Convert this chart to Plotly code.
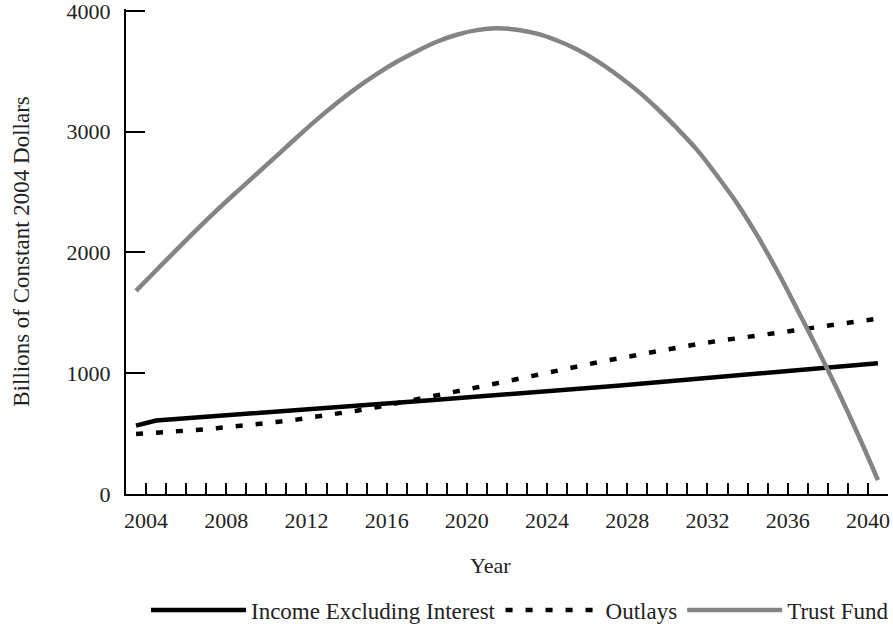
import plotly.graph_objects as go

years = [str(y) for y in range(2003, 2041)]

income = [566, 609, 621, 634, 646, 659, 671, 683, 696, 708, 721, 733, 743, 756,
          768, 780, 792, 804, 817, 830, 843, 857, 870, 884, 897, 911, 925, 939,
          953, 967, 981, 995, 1010, 1024, 1039, 1053, 1068, 1082]

outlays = [497, 505, 515, 530, 545, 560, 578, 596, 616, 638, 662, 690, 719, 750,
           782, 814, 848, 883, 917, 952, 990, 1027, 1059, 1090, 1121, 1152, 1184,
           1215, 1242, 1267, 1288, 1309, 1333, 1358, 1382, 1406, 1430, 1453]

trust = [1682, 1851, 2019, 2185, 2345, 2498, 2648, 2798, 2950, 3098, 3236, 3363,
         3477, 3579, 3667, 3745, 3803, 3841, 3856, 3845, 3812, 3755, 3680, 3585,
         3470, 3340, 3190, 3025, 2845, 2630, 2400, 2135, 1840, 1520, 1195, 855,
         495, 115]

y_ticks = [0, 1000, 2000, 3000, 4000]

FONT = "Liberation Serif"
TEXT = "#222222"

fig = go.Figure()
common = dict(x=years, xperiod="M12", xperiodalignment="middle", mode="lines")
fig.add_trace(go.Scatter(y=income, name="Income Excluding Interest",
                         line=dict(color="black", width=4.5), **common))
fig.add_trace(go.Scatter(y=outlays, name="Outlays",
                         line=dict(color="black", width=4.5, dash="7px,13px"), **common))
fig.add_trace(go.Scatter(y=trust, name="Trust Fund",
                         line=dict(color="#848484", width=4.5, shape="spline", smoothing=1.0),
                         **common))

fig.update_layout(
    width=893, height=627,
    margin=dict(l=126, r=5, t=9, b=133, autoexpand=False),
    paper_bgcolor="white", plot_bgcolor="white",
    font=dict(family=FONT, size=22, color=TEXT),
    showlegend=True,
    legend=dict(orientation="h", xref="container", yref="container",
                x=520 / 893, xanchor="center", y=1 - 610 / 627, yanchor="middle",
                font=dict(size=23), traceorder="normal", itemwidth=95),
    xaxis=dict(
        type="date", range=["2003-01-01", "2041-01-01"],
        tick0="2004-01-01", dtick="M48", tickformat="%Y",
        ticks="inside", ticklen=11, tickwidth=2, tickcolor="black",
        minor=dict(ticks="inside", ticklen=11, tickwidth=2, tickcolor="black",
                   dtick="M12", tick0="2004-01-01", showgrid=False),
        showline=True, linecolor="black", linewidth=2,
        showgrid=False, zeroline=False, automargin=False,
        tickfont=dict(size=22), ticklabelstandoff=6, ticklabeloverflow="allow",
    ),
    yaxis=dict(
        range=[0, 4016], tickvals=y_ticks,
        ticks="inside", ticklen=19, tickwidth=2, tickcolor="black",
        showline=True, linecolor="black", linewidth=2,
        showgrid=False, zeroline=False, automargin=False,
        tickfont=dict(size=22), ticklabelstandoff=9, ticklabeloverflow="allow",
        title=dict(text="Billions of Constant 2004 Dollars", font=dict(size=23), standoff=31),
    ),
    annotations=[dict(text="Year", xref="paper", yref="paper", x=(490 - 126) / 762,
                      y=-(565 - 494) / 485, xanchor="center", yanchor="middle",
                      showarrow=False, font=dict(size=22))],
)

# Remove the browser's default 8px body margin so the figure fills the window.
fig.write_html("out.html", config={"displayModeBar": False},
               post_script="document.body.style.margin='0';")
